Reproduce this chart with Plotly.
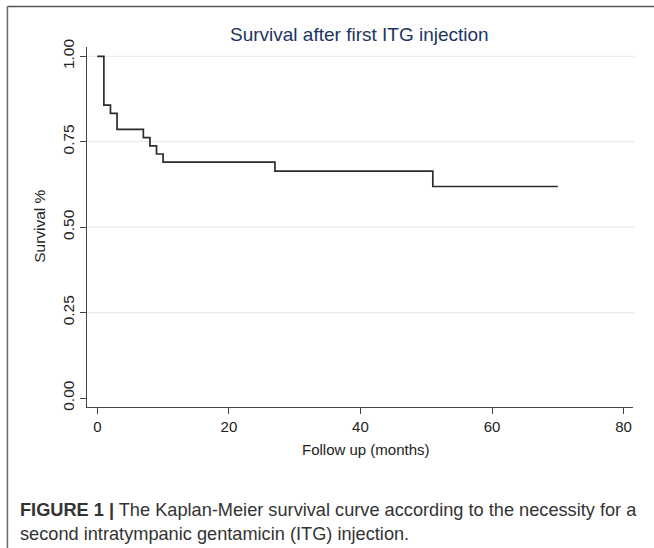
import plotly.graph_objects as go

# Kaplan-Meier step data (event times in months, survival after each step)
event_months = [0, 1, 2, 3, 7, 8, 9, 10, 27, 51]
survival = [1.0, 0.857, 0.833, 0.786, 0.762, 0.738, 0.714, 0.690, 0.664, 0.619]
last_followup = 70

x_ticks = [0, 20, 40, 60, 80]
y_ticks = [0.0, 0.25, 0.5, 0.75, 1.0]
y_tick_labels = ["0.00", "0.25", "0.50", "0.75", "1.00"]
grid_levels = [0.25, 0.5, 0.75, 1.0]

title_text = "Survival after first ITG injection"
x_title = "Follow up (months)"
y_title = "Survival %"
caption_line1 = "<b>FIGURE 1 |</b> The Kaplan-Meier survival curve according to the necessity for a"
caption_line2 = "second intratympanic gentamicin (ITG) injection."

W, H = 654, 548
L, R, T, B = 87, 632.7, 47, 407.3  # plot area in pixels
FONT = "Liberation Sans, Arial, Helvetica, sans-serif"

def px(xp):
    return (xp - L) / (R - L)

def py(yp):
    return (B - yp) / (B - T)

xs = event_months + [last_followup]
ys = survival + [survival[-1]]

fig = go.Figure()
fig.add_trace(go.Scatter(
    x=xs, y=ys, mode="lines", line=dict(shape="hv", color="#2b2b2b", width=1.7),
    hoverinfo="skip", showlegend=False))

shapes = []
for g in grid_levels:
    shapes.append(dict(type="line", xref="paper", yref="y", x0=0, x1=px(634), y0=g, y1=g,
                       line=dict(color="#e6eeef", width=1.3), layer="below"))
# figure frame (left and top)
shapes.append(dict(type="line", xref="paper", yref="paper", x0=px(7.5), x1=px(7.5),
                   y0=py(6.5), y1=py(560), line=dict(color="#666666", width=1.5)))
shapes.append(dict(type="line", xref="paper", yref="paper", x0=px(7.5), x1=px(700),
                   y0=py(6.5), y1=py(6.5), line=dict(color="#555555", width=1.5)))

annotations = [
    dict(text=title_text, xref="paper", yref="paper", x=px(359), y=py(34), xanchor="center",
         yanchor="middle", showarrow=False, font=dict(size=19, color="#1c3461", family=FONT)),
    dict(text=x_title, xref="paper", yref="paper", x=px(366), y=py(450), xanchor="center",
         yanchor="middle", showarrow=False, font=dict(size=15, color="#222222", family=FONT)),
    dict(text=y_title, xref="paper", yref="paper", x=px(40), y=py(226), xanchor="center",
         yanchor="middle", textangle=-90, showarrow=False,
         font=dict(size=15.5, color="#222222", family=FONT)),
    dict(text=caption_line1, xref="paper", yref="paper", x=px(18), y=py(510), xanchor="left",
         yanchor="middle", showarrow=False, font=dict(size=18.2, color="#333333", family=FONT)),
    dict(text=caption_line2, xref="paper", yref="paper", x=px(18), y=py(534), xanchor="left",
         yanchor="middle", showarrow=False, font=dict(size=18.2, color="#333333", family=FONT)),
]

x_per_px = 80 / (623.3 - 97.3)
x0 = 0 - (97.3 - L) * x_per_px
x1 = 0 + (R - 97.3) * x_per_px
y_per_px = 1.0 / (398.3 - 56.3)
y0 = 0 - (B - 398.3) * y_per_px
y1 = 1.0 + (56.3 - T) * y_per_px

fig.update_layout(
    width=W, height=H,
    margin=dict(l=L, r=W - R, t=T, b=H - B, pad=0),
    paper_bgcolor="white", plot_bgcolor="white",
    font=dict(family=FONT, size=15, color="#222222"),
    shapes=shapes, annotations=annotations,
    xaxis=dict(range=[x0, x1], tickvals=x_ticks, ticks="outside", ticklen=6, tickcolor="#444",
               showline=True, linecolor="#444", linewidth=1.2, showgrid=False, zeroline=False,
               tickfont=dict(size=15)),
    yaxis=dict(range=[y0, y1], tickvals=y_ticks, ticktext=y_tick_labels, tickangle=-90,
               ticks="outside", ticklen=6, tickcolor="#444",
               showline=True, linecolor="#444", linewidth=1.2, showgrid=False, zeroline=False,
               tickfont=dict(size=15.5)),
)

fig.write_html("out.html", config={"displayModeBar": False},
               post_script="document.body.style.margin='0px';document.body.style.padding='0px';document.body.style.overflow='hidden';")
